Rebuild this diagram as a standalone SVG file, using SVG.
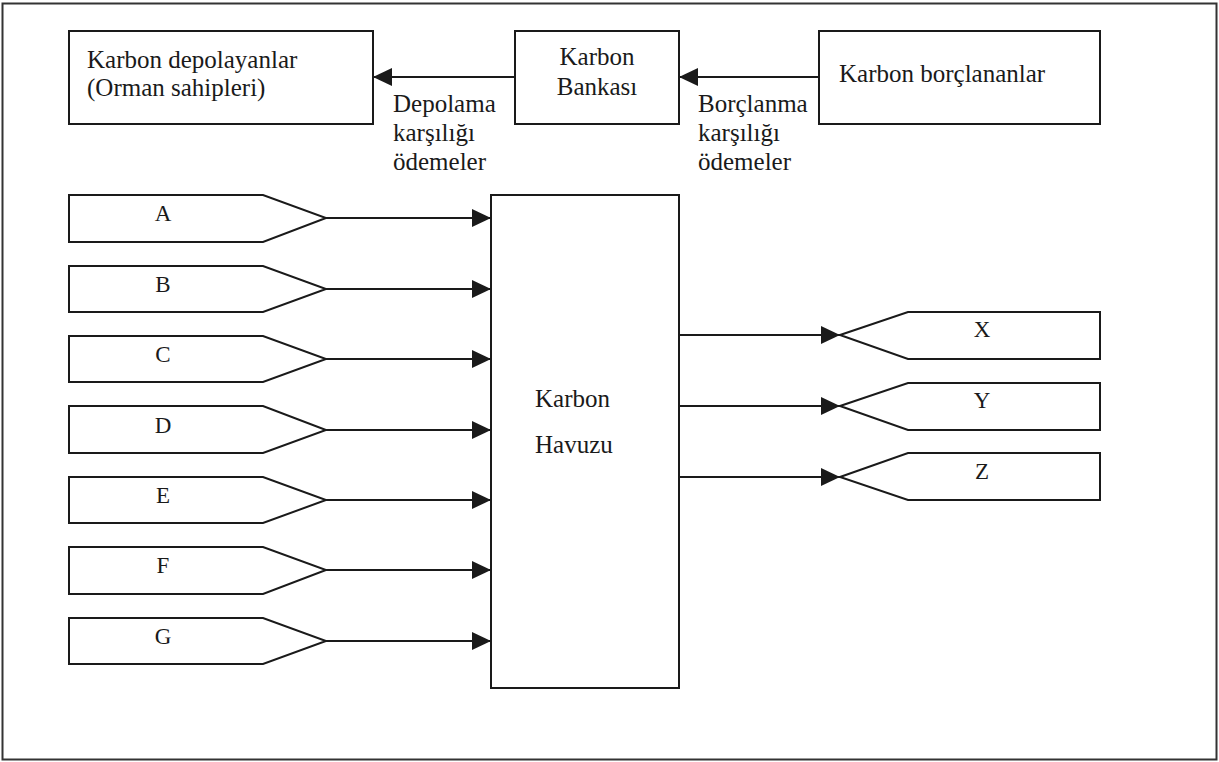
<svg xmlns="http://www.w3.org/2000/svg" width="1219" height="762" viewBox="0 0 1219 762">
<style>
.box{fill:#fff;stroke:#1a1a1a;stroke-width:2}
.ln{fill:none;stroke:#1a1a1a;stroke-width:2}
.t{font-family:'Liberation Serif','Times New Roman','DejaVu Serif',serif;font-size:25px;fill:#1a1a1a}
.l{font-family:'Liberation Serif','Times New Roman','DejaVu Serif',serif;font-size:23px;fill:#1a1a1a;text-anchor:middle}
</style>
<defs>
<marker id="ah" markerUnits="userSpaceOnUse" markerWidth="19" markerHeight="18" refX="19" refY="9" orient="auto">
<path d="M0,0 L19,9 L0,18 z" fill="#1a1a1a"/>
</marker>
</defs>
<rect x="0" y="0" width="1219" height="762" fill="#fff"/>
<rect id="frame" x="2.5" y="3.5" width="1214" height="756" fill="none" stroke="#333" stroke-width="2"/>

<g id="depolayanlar">
<rect class="box" x="69" y="31" width="304" height="93"/>
<text class="t" x="87" y="68" font-family="Liberation Serif">Karbon depolayanlar</text>
<text class="t" x="87" y="96" font-family="Liberation Serif">(Orman sahipleri)</text>
</g>
<g id="banka">
<rect class="box" x="515" y="31" width="164" height="93"/>
<text class="t" x="597" y="65" text-anchor="middle">Karbon</text>
<text class="t" x="597" y="95" text-anchor="middle">Bankası</text>
</g>
<g id="borclananlar">
<rect class="box" x="819" y="31" width="281" height="93"/>
<text class="t" x="839" y="82">Karbon borçlananlar</text>
</g>
<g id="havuz">
<rect class="box" x="491" y="195" width="188" height="493"/>
<text class="t" x="535" y="407">Karbon</text>
<text class="t" x="535" y="453">Havuzu</text>
</g>

<g id="lbl-depolama">
<text class="t" x="393" y="112">Depolama</text>
<text class="t" x="393" y="141">karşılığı</text>
<text class="t" x="393" y="170">ödemeler</text>
</g>
<g id="lbl-borclanma">
<text class="t" x="698" y="112">Borçlanma</text>
<text class="t" x="698" y="141">karşılığı</text>
<text class="t" x="698" y="170">ödemeler</text>
</g>

<g id="in-A"><polygon class="box" points="69,195 263,195 326,218 263,242 69,242"/><text class="l" x="163" y="221">A</text></g>
<g id="in-B"><polygon class="box" points="69,266 263,266 326,289 263,312 69,312"/><text class="l" x="163" y="292">B</text></g>
<g id="in-C"><polygon class="box" points="69,336 263,336 326,359 263,382 69,382"/><text class="l" x="163" y="362">C</text></g>
<g id="in-D"><polygon class="box" points="69,406 263,406 326,430 263,453 69,453"/><text class="l" x="163" y="433">D</text></g>
<g id="in-E"><polygon class="box" points="69,477 263,477 326,500 263,523 69,523"/><text class="l" x="163" y="503">E</text></g>
<g id="in-F"><polygon class="box" points="69,547 263,547 326,570 263,594 69,594"/><text class="l" x="163" y="573">F</text></g>
<g id="in-G"><polygon class="box" points="69,618 263,618 326,641 263,664 69,664"/><text class="l" x="163" y="644">G</text></g>

<g id="out-X"><polygon class="box" points="840,335 908,312 1100,312 1100,359 908,359"/><text class="l" x="982" y="337">X</text></g>
<g id="out-Y"><polygon class="box" points="840,406 908,383 1100,383 1100,430 908,430"/><text class="l" x="982" y="408">Y</text></g>
<g id="out-Z"><polygon class="box" points="840,477 908,453 1100,453 1100,500 908,500"/><text class="l" x="982" y="479">Z</text></g>

<g id="connectors">
<line class="ln" x1="515" y1="77" x2="373" y2="77" marker-end="url(#ah)"/>
<line class="ln" x1="819" y1="77" x2="679" y2="77" marker-end="url(#ah)"/>
<line class="ln" x1="326" y1="218" x2="491" y2="218" marker-end="url(#ah)"/>
<line class="ln" x1="326" y1="289" x2="491" y2="289" marker-end="url(#ah)"/>
<line class="ln" x1="326" y1="359" x2="491" y2="359" marker-end="url(#ah)"/>
<line class="ln" x1="326" y1="430" x2="491" y2="430" marker-end="url(#ah)"/>
<line class="ln" x1="326" y1="500" x2="491" y2="500" marker-end="url(#ah)"/>
<line class="ln" x1="326" y1="570" x2="491" y2="570" marker-end="url(#ah)"/>
<line class="ln" x1="326" y1="641" x2="491" y2="641" marker-end="url(#ah)"/>
<line class="ln" x1="679" y1="335" x2="840" y2="335" marker-end="url(#ah)"/>
<line class="ln" x1="679" y1="406" x2="840" y2="406" marker-end="url(#ah)"/>
<line class="ln" x1="679" y1="477" x2="840" y2="477" marker-end="url(#ah)"/>
</g>
</svg>
